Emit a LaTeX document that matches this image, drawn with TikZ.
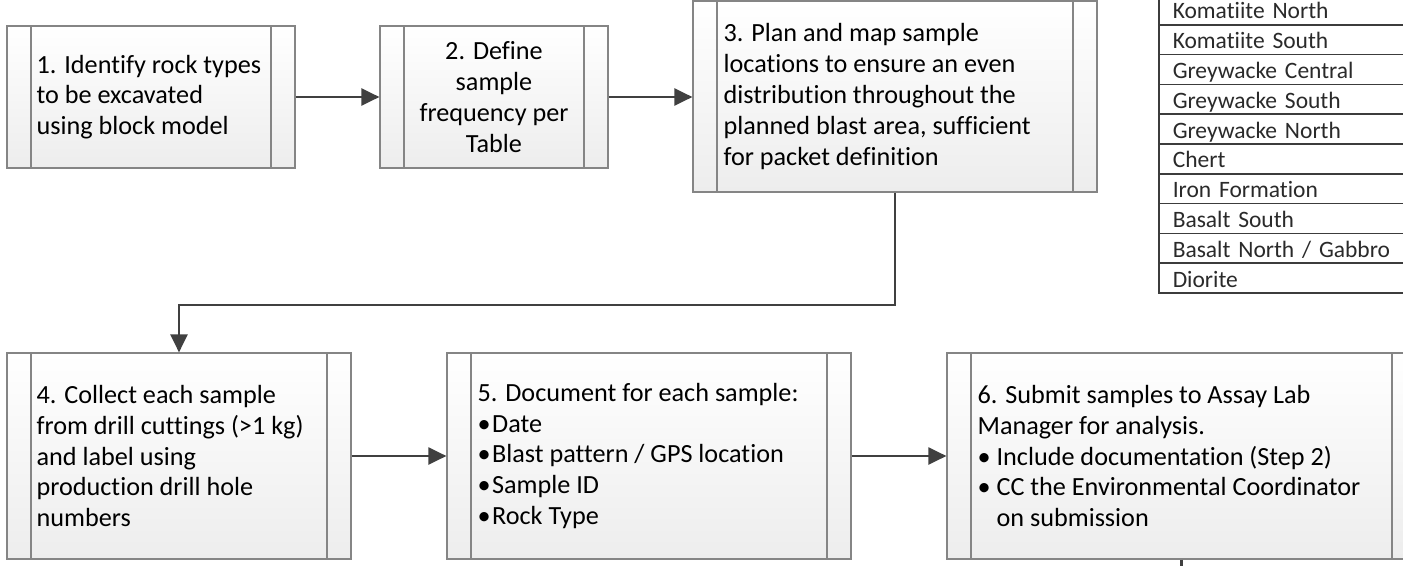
\documentclass[tikz,border=0pt]{standalone}
\usepackage{fontspec}
\setmainfont{Carlito}[Ligatures=NoCommon, RawFeature={-liga;-clig;-dlig}]
\usetikzlibrary{arrows.meta,calc}
\definecolor{boxline}{HTML}{858585}
\definecolor{conn}{HTML}{404040}
\definecolor{boxbot}{HTML}{EDEDED}
\definecolor{tabline}{HTML}{3C3C3C}
\definecolor{tabtext}{HTML}{2A2A2A}
\tikzset{
  proc/.style={rectangle, draw=boxline, line width=1.2pt, top color=white, bottom color=boxbot,
    inner sep=0pt,
    path picture={\draw[boxline, line width=1.2pt]
      ([xshift=24pt]path picture bounding box.north west) -- ([xshift=24pt]path picture bounding box.south west)
      ([xshift=-24pt]path picture bounding box.north east) -- ([xshift=-24pt]path picture bounding box.south east);}},
  txt/.style={inner sep=0pt, align=left, text=black, font=\fontsize{26.2pt}{30.8pt}\selectfont},
  ctxt/.style={txt, align=center},
  link/.style={draw=conn, line width=2.2pt, -{Triangle[length=18pt, width=17pt]}},
  plain/.style={draw=conn, line width=2.2pt},
  trow/.style={rectangle, draw=tabline, line width=1.5pt, fill=white, anchor=north west,
    minimum width=270pt, minimum height=29.8pt, text width=242pt, inner xsep=14pt, inner ysep=0pt,
    text height=18pt, text depth=0pt, align=left, text=tabtext, font=\fontsize{23.5pt}{26pt}\selectfont}
}
\begin{document}
\begin{tikzpicture}[x=1pt, y=-1pt]
\useasboundingbox (0,0) rectangle (1403,565);

% boxes
\node[proc, minimum width=288pt, minimum height=142pt] (b1) at (151,97) {};
\node[proc, minimum width=228pt, minimum height=142pt] (b2) at (494,97) {};
\node[proc, minimum width=404pt, minimum height=191pt] (b3) at (895,96.5) {};
\node[proc, minimum width=344pt, minimum height=206pt] (b4) at (179,456) {};
\node[proc, minimum width=404pt, minimum height=206pt] (b5) at (649,456) {};
\node[proc, minimum width=469pt, minimum height=206pt] (b6) at (1181.5,456) {};

% texts
\node[txt, anchor=west] (t1) at ([xshift=30pt]b1.west) {1. Identify rock types\\to be excavated\\using block model};
\node[ctxt] (t2) at (b2.center) {2. Define\\sample\\frequency per\\Table};
\node[txt, anchor=west] (t3) at ([xshift=31pt]b3.west) {3. Plan and map sample\\locations to ensure an even\\distribution throughout the\\planned blast area, sufficient\\for packet definition};
\node[txt, anchor=west] (t4) at ([xshift=30pt]b4.west) {4. Collect each sample\\from drill cuttings (>1 kg)\\and label using\\production drill hole\\numbers};
\node[txt, anchor=west] (t5) at ([xshift=31pt]b5.west) {5. Document for each sample:\\•\hspace{1.5pt}Date\\•\hspace{1.5pt}Blast pattern / GPS location\\•\hspace{1.5pt}Sample ID\\•\hspace{1.5pt}Rock Type};
\node[txt, anchor=west] (t6) at ([xshift=31pt]b6.west) {6. Submit samples to Assay Lab\\Manager for analysis.\\• Include documentation (Step 2)\\• CC the Environmental Coordinator\\\hphantom{•} on submission};

% connectors
\draw[link] (b1.east) -- (b2.west);
\draw[link] (b2.east) -- (b3.west |- b2.east);
\coordinate (bend) at (895,305);
\draw[link] (b3.south) -- (bend) -| (b4.north);
\draw[link] (b4.east) -- (b5.west);
\draw[link] (b5.east) -- (b6.west);
\coordinate (stub) at (1181.5,570);
\draw[plain] (b6.south) -- (stub);

% table
\foreach \t [count=\i] in {Komatiite North, Komatiite South, Greywacke Central, Greywacke South, Greywacke North, Chert, Iron Formation, Basalt South, Basalt North / Gabbro, Diorite}{
  \node[trow] (r\i) at (1158, {-5.8+29.8*(\i-1)}) {\t};
}
\end{tikzpicture}
\end{document}
